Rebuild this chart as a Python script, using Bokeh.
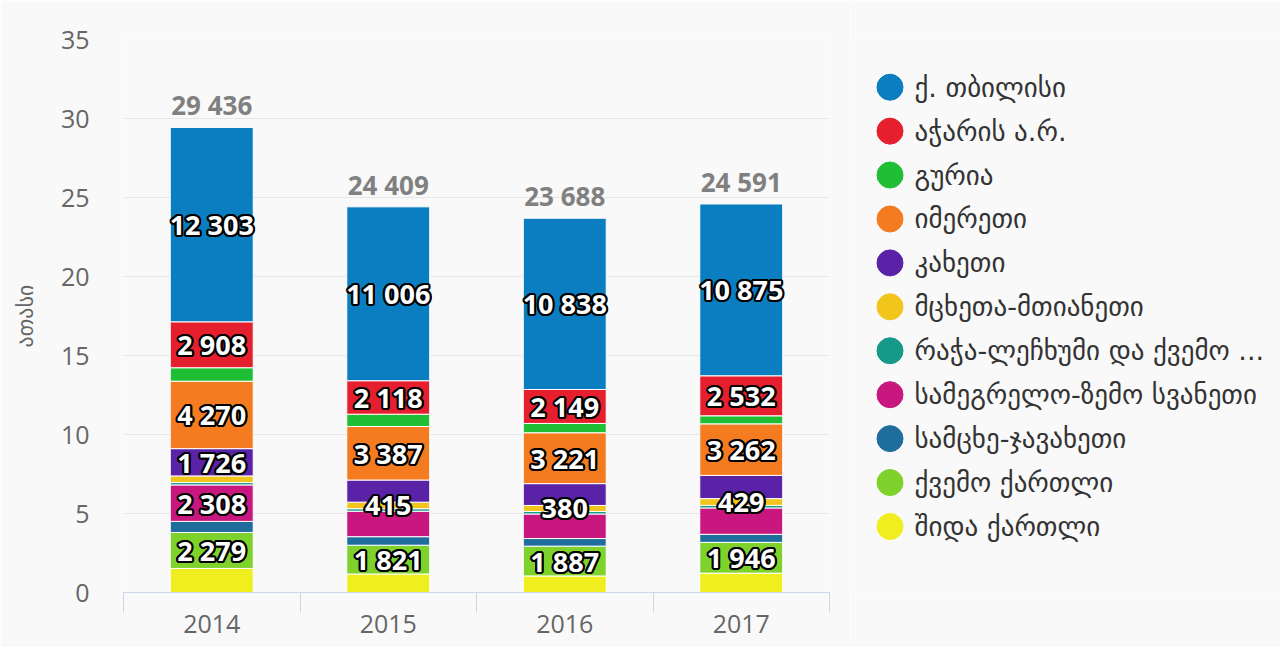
from bokeh.plotting import figure
from bokeh.models import ColumnDataSource, Range1d, FixedTicker, SingleIntervalTicker
from bokeh.layouts import row
from bokeh.core.properties import value
from bokeh.embed import file_html
from bokeh.resources import INLINE

# ---------------- data (thousands) ----------------
years = ["2014", "2015", "2016", "2017"]

tbilisi = [12.303, 11.006, 10.838, 10.875]
adjara = [2.908, 2.118, 2.149, 2.532]
guria = [0.85, 0.78, 0.59, 0.51]
imereti = [4.270, 3.387, 3.221, 3.262]
kakheti = [1.726, 1.40, 1.38, 1.47]
mtskheta = [0.42, 0.415, 0.380, 0.429]
racha = [0.15, 0.16, 0.16, 0.16]
samegrelo = [2.308, 1.61, 1.555, 1.67]
samtskhe = [0.70, 0.54, 0.48, 0.51]
kvemo = [2.279, 1.821, 1.887, 1.946]
shida = [1.522, 1.172, 1.048, 1.227]
totals = [29436, 24409, 23688, 24591]

series_keys = ["tbilisi", "adjara", "guria", "imereti", "kakheti", "mtskheta",
               "racha", "samegrelo", "samtskhe", "kvemo", "shida"]
series_names = ["ქ. თბილისი", "აჭარის ა.რ.", "გურია", "იმერეთი", "კახეთი",
                "მცხეთა-მთიანეთი", "რაჭა-ლეჩხუმი და ქვემო ...",
                "სამეგრელო-ზემო სვანეთი", "სამცხე-ჯავახეთი", "ქვემო ქართლი",
                "შიდა ქართლი"]
series_values = [tbilisi, adjara, guria, imereti, kakheti, mtskheta, racha,
                 samegrelo, samtskhe, kvemo, shida]
colors = ["#0b7dc1", "#e61f2f", "#1fbe35", "#f47b20", "#5a22a6", "#f2c51c",
          "#17998a", "#c8177f", "#1f6d9d", "#7fd22b", "#f1ee1f"]

# which segment labels are visible (year indices)
labelled = {"tbilisi": [0, 1, 2, 3], "adjara": [0, 1, 2, 3], "imereti": [0, 1, 2, 3],
            "kakheti": [0], "mtskheta": [1, 2, 3], "samegrelo": [0], "kvemo": [0, 1, 2, 3]}

y_title = "ათასი"

# ---------------- styling ----------------
BG = "#f9f9f9"
GRID = "#e6e6e6"
AXIS = "#ccd6eb"
TXT = "#666666"
NUM_FONT = "Open Sans"
GEO_FONT = "DejaVu Sans"

W1, W2, H = 850, 430, 647
TOP, BOTTOM = 39, 55


def fmt(v):
    return f"{v:,}".replace(",", " ")


xs = [i + 0.5 for i in range(len(years))]
data = {"x": xs}
for k, vals in zip(series_keys, series_values):
    data[k] = vals
src = ColumnDataSource(data)

p = figure(width=W1, height=H, x_range=Range1d(0, len(years)), y_range=Range1d(0, 35),
           output_backend="svg", toolbar_location=None,
           min_border_left=123, min_border_top=TOP, min_border_right=21,
           min_border_bottom=BOTTOM)
p.background_fill_color = BG
p.border_fill_color = BG
p.outline_line_color = None

stack_keys = series_keys[::-1]
stack_colors = colors[::-1]
p.vbar_stack(stack_keys, x="x", width=0.47, color=stack_colors, source=src,
             line_color="white", line_width=1)

# segment labels
lx, ly, lt = [], [], []
for j in range(len(years)):
    base = 0.0
    for k in stack_keys:
        v = data[k][j]
        if j in labelled.get(k, []):
            lx.append(xs[j])
            ly.append(base + v / 2)
            lt.append(fmt(round(v * 1000)))
        base += v
lsrc = ColumnDataSource(dict(x=lx, y=ly, t=lt))
offsets = [(dx, dy) for dx in (-2, -1, 0, 1, 2) for dy in (-2, -1, 0, 1, 2)
           if (dx, dy) != (0, 0) and dx * dx + dy * dy <= 5]
for dx, dy in offsets:
    p.text(x="x", y="y", text="t", source=lsrc, x_offset=dx, y_offset=dy,
           text_color="black", text_font=value(NUM_FONT), text_font_style="bold",
           text_font_size="27px", text_align="center", text_baseline="middle")
p.text(x="x", y="y", text="t", source=lsrc, text_color="white",
       text_font=value(NUM_FONT), text_font_style="bold", text_font_size="27px",
       text_align="center", text_baseline="middle")

# totals
tsrc = ColumnDataSource(dict(x=xs, y=[t / 1000 for t in totals], t=[fmt(t) for t in totals]))
p.text(x="x", y="y", text="t", source=tsrc, y_offset=-22, text_color="#808080",
       text_font=value(NUM_FONT), text_font_style="bold", text_font_size="26px",
       text_align="center", text_baseline="alphabetic")

# axes
p.xgrid.grid_line_color = None
p.ygrid.grid_line_color = GRID
p.ygrid.grid_line_width = 1

xa = p.xaxis[0]
xa.ticker = FixedTicker(ticks=xs, minor_ticks=list(range(len(years) + 1)))
xa.major_label_overrides = {x: y for x, y in zip(xs, years)}
xa.major_tick_out = 0
xa.major_tick_in = 0
xa.minor_tick_out = 20
xa.minor_tick_in = 0
xa.minor_tick_line_color = AXIS
xa.axis_line_color = AXIS
xa.major_label_standoff = 2
xa.major_label_text_font = NUM_FONT
xa.major_label_text_font_size = "25px"
xa.major_label_text_color = TXT

ya = p.yaxis[0]
ya.ticker = SingleIntervalTicker(interval=5)
ya.axis_line_color = None
ya.major_tick_line_color = None
ya.minor_tick_line_color = None
ya.major_tick_out = 0
ya.major_tick_in = 0
ya.minor_tick_out = 0
ya.major_label_standoff = 34
ya.major_label_text_font = NUM_FONT
ya.major_label_text_font_size = "25px"
ya.major_label_text_color = TXT
ya.axis_label = y_title
ya.axis_label_text_font = GEO_FONT
ya.axis_label_text_font_style = "normal"
ya.axis_label_text_font_size = "22px"
ya.axis_label_text_color = TXT
ya.axis_label_standoff = 20

# ---------------- legend panel ----------------
# frame aligned with main plot frame; y data units = page pixels from top
leg = figure(width=W2, height=H, x_range=Range1d(0, W2),
             y_range=Range1d(H - BOTTOM, TOP),
             x_axis_type=None, y_axis_type=None, output_backend="svg",
             toolbar_location=None, min_border_left=0, min_border_right=0,
             min_border_top=TOP, min_border_bottom=BOTTOM)
leg.background_fill_color = BG
leg.border_fill_color = BG
leg.outline_line_color = None
leg.xgrid.visible = False
leg.ygrid.visible = False

n = len(series_names)
item_y = [86.7 + 43.93 * i for i in range(n)]
lgsrc = ColumnDataSource(dict(x=[39.5] * n, tx=[64] * n, y=item_y, c=colors, t=series_names))
leg.scatter(x="x", y="y", size=26, color="c", source=lgsrc)
leg.text(x="tx", y="y", text="t", source=lgsrc, text_color="#333333",
         text_font=value(GEO_FONT), text_font_size="27px", text_baseline="middle",
         text_align="left")

layout = row(p, leg)
open("out.html", "w").write(file_html(layout, INLINE))
